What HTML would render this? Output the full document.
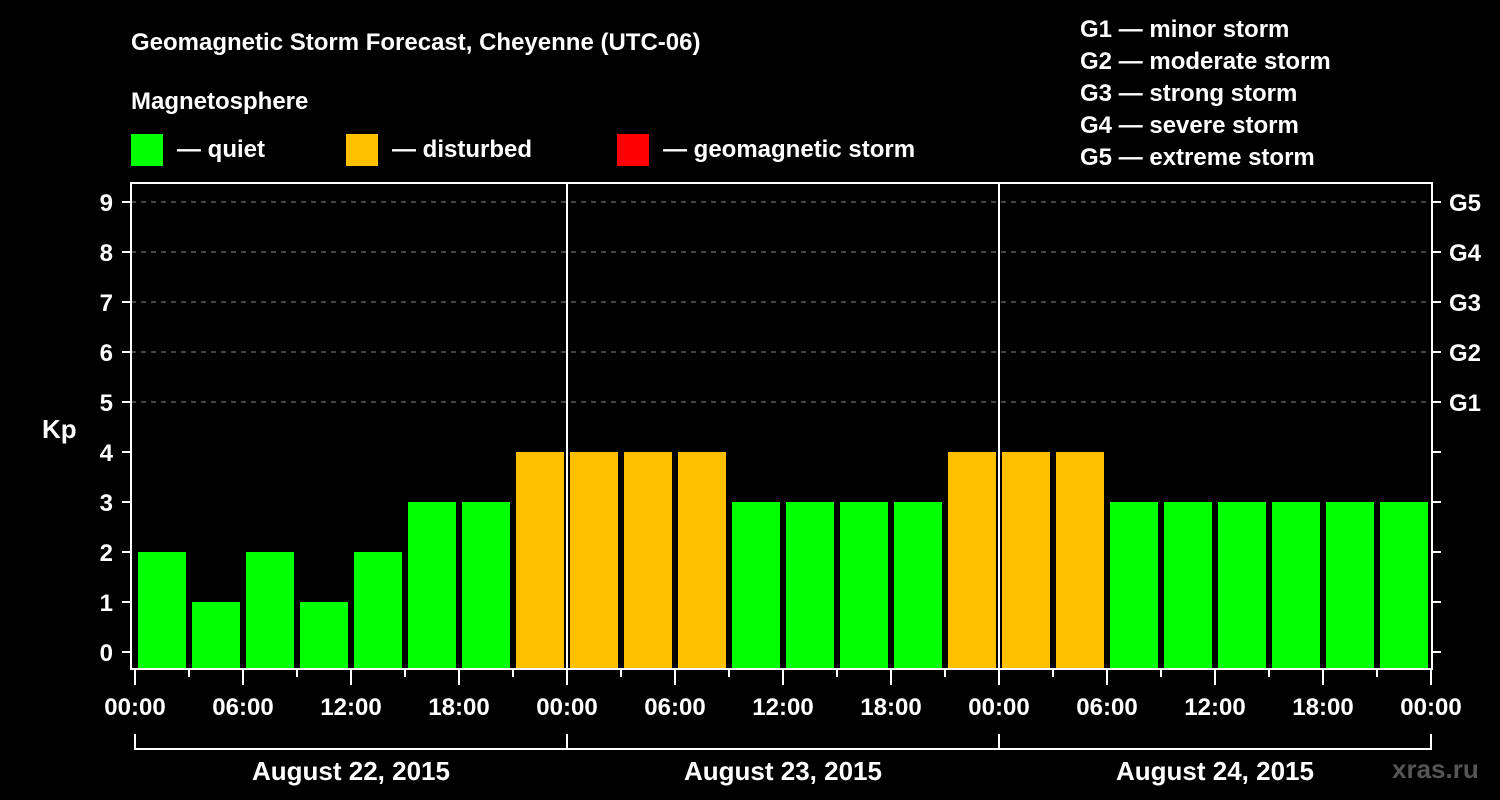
<!DOCTYPE html>
<html><head><meta charset="utf-8"><style>
html,body{margin:0;padding:0;background:#000;}
svg{display:block;font-family:"Liberation Sans",Arial,sans-serif;font-weight:bold;}
</style></head><body>
<svg id="chart" width="1500" height="800" viewBox="0 0 1500 800">
<rect width="1500" height="800" fill="#000"/>
<text x="131" y="50" fill="#fff" font-size="24">Geomagnetic Storm Forecast, Cheyenne (UTC-06)</text>
<text x="131" y="109" fill="#fff" font-size="24">Magnetosphere</text>
<g><rect x="131" y="134" width="32" height="32" fill="#00ff00"/><text x="177" y="157" fill="#fff" font-size="24">— quiet</text></g>
<g><rect x="346" y="134" width="32" height="32" fill="#ffc000"/><text x="392" y="157" fill="#fff" font-size="24">— disturbed</text></g>
<g><rect x="617" y="134" width="32" height="32" fill="#ff0000"/><text x="663" y="157" fill="#fff" font-size="24">— geomagnetic storm</text></g>
<g fill="#fff" font-size="24">
<text x="1080" y="37">G1 — minor storm</text>
<text x="1080" y="69">G2 — moderate storm</text>
<text x="1080" y="101">G3 — strong storm</text>
<text x="1080" y="133">G4 — severe storm</text>
<text x="1080" y="165">G5 — extreme storm</text>
</g>
<text x="42" y="438" fill="#fff" font-size="26">Kp</text>
<text x="1392" y="778" fill="#555" font-size="26">xras.ru</text>
<g id="grid"></g><g id="bars"></g><g id="axes"></g>
</svg>
<script>
const kpValues=[2,1,2,1,2,3,3,4, 4,4,4,3,3,3,3,4, 4,4,3,3,3,3,3,3];
const dayLabels=["August 22, 2015","August 23, 2015","August 24, 2015"];
const hourLabels=["00:00","06:00","12:00","18:00"];
const yTicks=[0,1,2,3,4,5,6,7,8,9];
const gLabels=["G1","G2","G3","G4","G5"];
const NS="http://www.w3.org/2000/svg";
const X0=135,SLOT=54,PL=131,PR=1432,PT=183,PB=669;
const yS=v=>652-50*v;
const xS=i=>X0+i*SLOT;
function mk(tag,attrs,parent,txt){const e=document.createElementNS(NS,tag);for(const k in attrs)e.setAttribute(k,attrs[k]);if(txt!==undefined)e.textContent=txt;parent.appendChild(e);return e;}
const grid=document.getElementById('grid'),bars=document.getElementById('bars'),axes=document.getElementById('axes');
yTicks.forEach(v=>{
  if(v>=5){const l=mk('line',{x1:PL,x2:PR,y1:yS(v),y2:yS(v),stroke:'#888','stroke-width':1,'stroke-dasharray':'5,5'},grid);
  
  }
  const t=mk('line',{x1:122,x2:PL,y1:yS(v),y2:yS(v),stroke:'#fff','stroke-width':2},axes);
  
  
  const lb=mk('text',{x:113,y:yS(v)+9,fill:'#fff','font-size':24,'text-anchor':'end'},axes,String(v));
  
  
  const rt=mk('line',{x1:PR,x2:1441,y1:yS(v),y2:yS(v),stroke:'#fff','stroke-width':2},axes);
  
  
  if(v>=5){const g=mk('text',{x:1449,y:yS(v)+9,fill:'#fff','font-size':24},axes,gLabels[v-5]);
  
  }
});
kpValues.forEach((v,i)=>{
  const col=v>=5?'#ff0000':(v>=4?'#ffc000':'#00ff00');
  const r=mk('rect',{x:xS(i)+3,y:yS(v),width:SLOT-6,height:PB-yS(v),fill:col},bars);
  
  
});
const fr=mk('rect',{x:PL,y:PT,width:PR-PL,height:PB-PT,fill:'none',stroke:'#fff','stroke-width':2},axes);


for(let d=1;d<3;d++){const l=mk('line',{x1:xS(d*8),x2:xS(d*8),y1:PT,y2:PB,stroke:'#fff','stroke-width':2},axes);
  
  }
for(let i=0;i<=24;i++){
  const major=i%2===0;
  const t=mk('line',{x1:xS(i),x2:xS(i),y1:PB,y2:major?685:677,stroke:'#fff','stroke-width':2},axes);
  
  
  if(major&&i%2===0&&(i%2===0)&&((i/2)%1===0)&&(i%2===0)&&(i% (2)===0)&&(i%2===0)&&(i%2===0)&&(i%2===0)&&(i%2===0)&&(i%2===0)&&((i%2)===0)&&(i%2===0)&&(i%2===0)&&(i%2===0)&&(i%2===0)&&(i%2===0)&&(i%2===0)&&(i%2===0)&&true){
    if(i%2===0&&(i/2)%1===0&&((i*3)%6===0)){
      const lb=mk('text',{x:xS(i),y:715,fill:'#fff','font-size':24,'text-anchor':'middle'},axes,hourLabels[(i/2)%4]);
      
      
    }
  }
}
dayLabels.forEach((d,k)=>{
  const a=xS(k*8),b=xS(k*8+8);
  const p=mk('path',{d:`M${a} 734V749H${b}V734`,stroke:'#fff','stroke-width':2,fill:'none'},axes);
  
  
  const t=mk('text',{x:(a+b)/2,y:780,fill:'#fff','font-size':26,'text-anchor':'middle'},axes,d);
  
  
});
</script>
</body></html>
